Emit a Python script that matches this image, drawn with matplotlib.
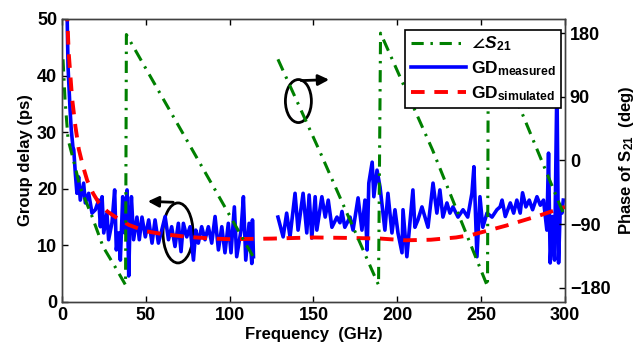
import numpy as np
import matplotlib
matplotlib.use('Agg')
import matplotlib.pyplot as plt
from matplotlib.patches import Ellipse

plt.rcParams['font.family'] = ['Liberation Sans', 'DejaVu Sans']
plt.rcParams['font.weight'] = 'bold'
plt.rcParams['mathtext.fontset'] = 'custom'
plt.rcParams['mathtext.rm'] = 'Liberation Sans:bold'
plt.rcParams['mathtext.it'] = 'Liberation Sans:italic:bold'
plt.rcParams['mathtext.bf'] = 'Liberation Sans:bold'

# measured group delay, two pieces (gap between ~115 and ~129 GHz)
gd_meas_f1 = [2.8, 3.6, 4.8, 5.5, 6.5, 7.0, 8.0, 8.9, 9.9, 10.9, 12.9, 13.9, 15.9, 17.9, 19.9,
              21.9, 22.9, 23.9, 24.9, 26.8, 27.8, 29.8, 31.4, 32.4, 33.8, 34.8, 36.2, 37.4, 38.8,
              39.8, 40.4, 41.4, 42.7, 44.7, 46.1, 47.7, 49.7, 51.7, 53.7, 55.5, 57.5, 59.5, 61.5,
              63.5, 65.4, 67.4, 69.4, 71.0, 72.4, 74.4, 76.4, 78.4, 79.8, 81.3, 83.3, 85.3, 87.3,
              89.3, 91.3, 93.3, 95.3, 97.2, 99.2, 100.8, 102.8, 104.2, 106.8, 108.2, 109.6, 111.6,
              113.2, 113.6, 114.2]
gd_meas_v1 = [55, 41.5, 34, 30.5, 27.4, 26.9, 22.5, 19.2, 22.1, 18, 21, 17.5, 19.2, 15.7, 16.3,
              18, 13.3, 18.6, 12.2, 15.7, 11, 14, 19.8, 9.2, 12.2, 7.4, 18.6, 12.2, 19.8,
              4.6, 12.2, 18.6, 11, 15, 11, 15, 11.5, 14.5, 10.4, 14.5, 10.4, 12.7, 15.1,
              11, 13.3, 9.8, 13.9, 8.9, 13.9, 11.5, 13.3, 7.4, 12.7, 10.4, 13.3, 11, 13.3,
              10.4, 15.1, 9.2, 13.3, 8.7, 13.9, 8.7, 16.8, 8.0, 12.7, 18.6, 7.4, 13.9,
              6.8, 14.5, 8]
gd_meas_f2 = [128.8, 131.9, 134, 136, 139, 140.8, 143.8, 146, 147.4, 149, 151, 152, 155, 157,
              158.8, 161, 164, 165.8, 167, 168.7, 171.8, 173.6, 176.6, 178.9, 180.7, 182, 183,
              185, 186, 187.9, 189.7, 192.6, 194.4, 196.8, 198.6, 200.4, 202.8, 203.4, 205.7,
              207.5, 209.3, 210.5, 212.3, 214.7, 216.5, 218.3, 221.3, 223.6, 225.4, 227.2, 229.6,
              231.4, 233.2, 236.2, 239.2, 242, 244.5, 245.7, 247.5, 249.3, 251, 253.5, 256.5,
              259.4, 261.3, 262.5, 264.4, 267.4, 269.4, 271.3, 273.3, 274.7, 276.7, 278.7, 280.7,
              283.3, 285.3, 287.2, 289.2, 290.2, 291.2, 292.6, 293.8, 295.2, 296.2, 297.2, 298.2, 299]
gd_meas_v2 = [15, 11.5, 15.7, 11.5, 19.2, 12.7, 19.2, 12.2, 18.9, 11.3, 18.6, 12.7, 18.6, 15,
              18, 13.2, 15, 14, 16, 13.2, 15, 12.7, 18.4, 12.7, 18, 9.2, 21,
              24.7, 18.6, 23.3, 20.3, 12.7, 19.2, 12.2, 16.3, 12.2, 8.7, 16.3, 8,
              14, 19.8, 13.2, 14.5, 16.8, 15, 13.2, 21, 15.7, 19.8, 15, 17.5,
              15.7, 16.8, 15, 16.3, 15, 19.2, 23.9, 8, 18.6, 13.2, 15.7, 15,
              16.3, 16.8, 18, 15.1, 17.5, 15.7, 18, 15.7, 19.3, 16.8, 18, 16.3,
              18.6, 17.1, 18, 12.7, 26.3, 6.9, 15.1, 7.4, 38.8, 6.9, 16.8, 15.7, 18]

# simulated group delay
gd_sim_f = [2.9, 4, 5, 6, 8, 10, 12.5, 15, 18.5, 22, 27, 33, 40, 50, 60, 75, 90, 100, 125, 150,
            175, 190, 205, 220, 235, 245, 255, 265, 275, 285, 292, 300]
gd_sim_v = [52, 44, 40, 36, 31, 27, 24, 21.5, 19.2, 17.5, 16, 14.8, 13.6, 12.5, 12, 11.5, 11.2,
            11.1, 11.2, 11.4, 11.3, 11.2, 10.9, 11.0, 11.4, 11.9, 12.7, 13.5, 14.4, 15.3, 16, 16.8]

# phase of S21 (deg), nan = gap
ph_f = [0.6, 1.8, 3.6, 7.8, 10.7, 17.9, 24.5, 31.6, 37.9, 38.4, 77.5, 115, np.nan,
        128.8, 153.9, 188.8, 190, 221, 253.8, 254.3, 273, 300]
ph_v = [143, 86, 30, -8.5, -37, -79, -122, -150, -176, 178, 16, -140, np.nan,
        143, 12, -176, 180, 15, -178, 180, 75, -80]

gd_meas_f = gd_meas_f1 + [np.nan] + gd_meas_f2
gd_meas_v = gd_meas_v1 + [np.nan] + gd_meas_v2

fig = plt.figure(figsize=(6.36, 3.49), dpi=100)
ax = fig.add_axes([0.0975, 0.1347, 0.7908, 0.8109])
ax2 = ax.twinx()

l2, = ax.plot(gd_meas_f, gd_meas_v, color='blue', lw=2.6, label=r'GD$_{\rm measured}$')
l3, = ax.plot(gd_sim_f, gd_sim_v, color='red', lw=2.8, dashes=(3.5, 2.5),
              label=r'GD$_{\rm simulated}$')
l1, = ax2.plot(ph_f, ph_v, color='green', lw=2.2, dashes=(4, 2.2, 0.8, 2.2),
               label=r'$\angle S_{\rm 21}$')

ax.set_xlim(0, 300)
ax.set_ylim(0, 50)
ax2.set_ylim(-200, 200)
ax.set_xticks([0, 50, 100, 150, 200, 250, 300])
ax.set_yticks([0, 10, 20, 30, 40, 50])
ax2.set_yticks([-180, -90, 0, 90, 180])

for a in (ax, ax2):
    a.tick_params(direction='in', labelsize=13, length=4, width=1)
    for s in a.spines.values():
        s.set_linewidth(1)
        s.set_color('#404040')
ax.tick_params(top=True)

ax.set_xlabel('Frequency  (GHz)', fontsize=12, fontweight='bold', labelpad=2)
ax.set_ylabel('Group delay (ps)', fontsize=12, fontweight='bold', labelpad=3)
ax2.set_ylabel(r'Phase of S$_{\rm 21}$  (deg)', fontsize=12, fontweight='bold', labelpad=5)

# annotation ellipses and arrows
ax.add_patch(Ellipse((69.2, 12.2), 17.9, 10.6, fill=False, lw=2, color='black'))
ax.annotate('', xy=(49.5, 17.8), xytext=(68, 17.6),
            arrowprops=dict(arrowstyle='-|>', lw=2, color='black', mutation_scale=16))
ax.add_patch(Ellipse((141, 35.5), 15.5, 7.6, fill=False, lw=2, color='black'))
ax.annotate('', xy=(161, 39.3), xytext=(141, 39.1),
            arrowprops=dict(arrowstyle='-|>', lw=2, color='black', mutation_scale=16))

leg = ax2.legend(handles=[l1, l2, l3], loc='upper right', bbox_to_anchor=(1.0, 0.975),
                 fontsize=12.5, handlelength=3.2, fancybox=False, framealpha=1,
                 edgecolor='black', borderaxespad=0.2, labelspacing=0.35,
                 handletextpad=0.3, borderpad=0.3)
leg.get_frame().set_linewidth(1.2)

fig.savefig('out.png', dpi=100)
